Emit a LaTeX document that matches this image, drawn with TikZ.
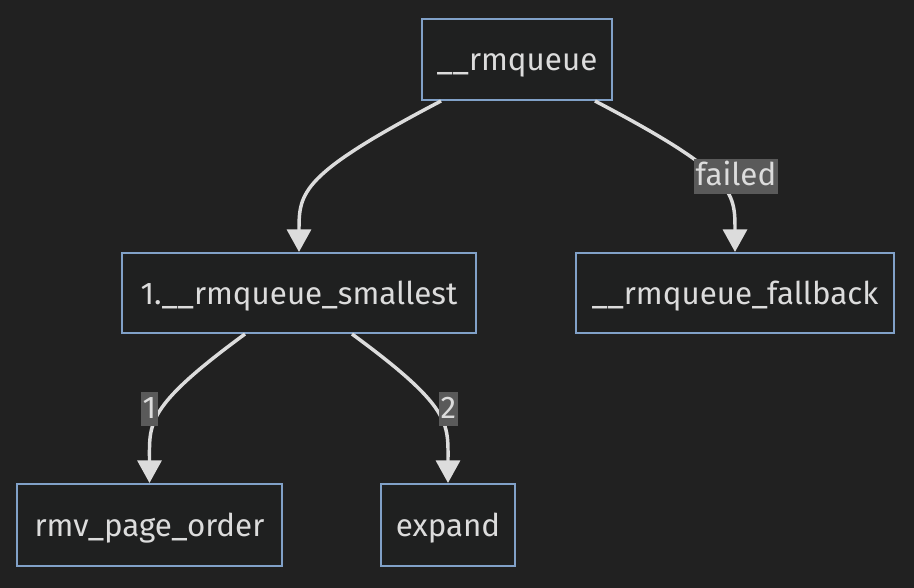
\documentclass[tikz,border=0pt]{standalone}
\usepackage{fontspec}
\setmainfont{Fira Sans}
\usetikzlibrary{arrows.meta,calc}
\definecolor{bg}{HTML}{212121}
\definecolor{nodefill}{HTML}{1F2020}
\definecolor{nodeborder}{HTML}{81A1C8}
\definecolor{txt}{HTML}{DCDCDC}
\definecolor{edgecol}{HTML}{DCDCDC}
\definecolor{lblbg}{HTML}{5A5A5A}
\tikzset{
  box/.style={draw=nodeborder, fill=nodefill, line width=1.5pt, text=txt,
    font=\fontsize{23.5}{28}\selectfont, inner sep=0pt, anchor=center,
    text height=17pt, text depth=0pt},
  conn/.style={draw=edgecol, line width=2.6pt,
    -{Triangle[length=17pt,width=18pt]}},
  lbl/.style={fill=lblbg, text=txt, font=\fontsize{23.5}{28}\selectfont,
    inner xsep=1pt, inner ysep=0pt, text height=20pt, text depth=6pt}
}
\begin{document}
\begin{tikzpicture}[x=0.75pt,y=-0.75pt]
\fill[bg] (0,0) rectangle (914,588);
\useasboundingbox (0,0) rectangle (914,588);
\node[box, minimum width=142.5pt, minimum height=60.75pt] (rq) at (517,59.5) {\_\_rmqueue};
\node[box, minimum width=265.5pt, minimum height=60pt] (sm) at (299,293) {1.\_\_rmqueue\_smallest};
\node[box, minimum width=238.5pt, minimum height=60pt] (fb) at (735,293) {\_\_rmqueue\_fallback};
\node[box, minimum width=198.75pt, minimum height=61.5pt] (rmv) at (149.5,525) {rmv\_page\_order};
\node[box, minimum width=100.5pt, minimum height=61.5pt] (ex) at (448,525) {expand};
% edges
\draw[conn] ([xshift=-57pt]rq.south) .. controls +(-105pt,-55pt) and +(0,45pt) .. (sm.north);
\draw[conn] ([xshift=58.5pt]rq.south) .. controls +(105pt,-55pt) and +(0,45pt) .. (fb.north);
\draw[conn] ([xshift=-40.5pt]sm.south) .. controls +(-75pt,-55pt) and +(0,45pt) .. (rmv.north);
\draw[conn] ([xshift=39.75pt]sm.south) .. controls +(75pt,-55pt) and +(0,45pt) .. (ex.north);
% edge labels
\node[lbl] (lf) at (736,176.5) {failed};
\node[lbl] (l1) at (149.5,409) {1};
\node[lbl] (l2) at (448.5,409) {2};
\end{tikzpicture}
\end{document}
